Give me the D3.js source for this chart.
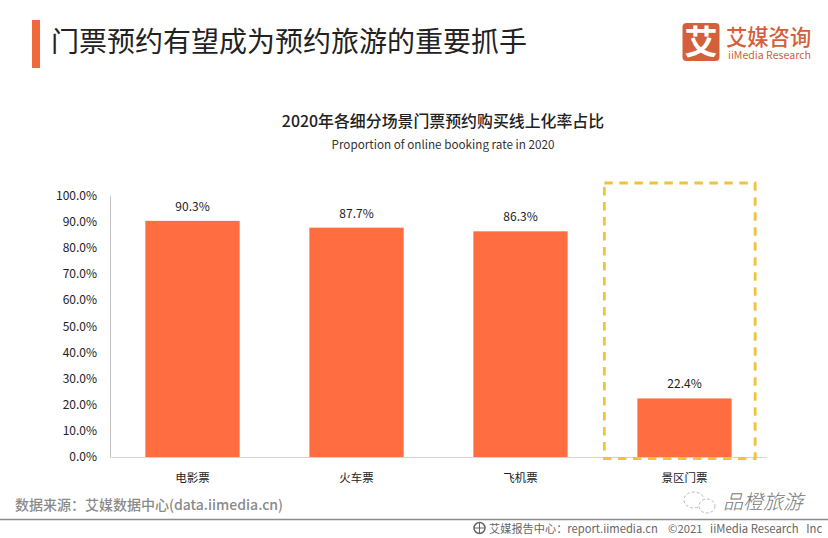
<!DOCTYPE html>
<html><head><meta charset="utf-8">
<script src="https://cdnjs.cloudflare.com/ajax/libs/d3/7.8.5/d3.min.js"></script>
<style>html,body{margin:0;padding:0;background:#fff}svg{display:block}
text{font-family:"Noto Sans CJK SC","Noto Sans",sans-serif;white-space:pre}</style></head>
<body><svg id="c" width="828" height="538"></svg>
<script>
const categories = ["电影票","火车票","飞机票","景区门票"];
const values = [90.3,87.7,86.3,22.4];
const valueLabels = ["90.3%","87.7%","86.3%","22.4%"];
const yTicks = [0,10,20,30,40,50,60,70,80,90,100];
const pageTitle = "门票预约有望成为预约旅游的重要抓手";
const chartTitle = "2020年各细分场景门票预约购买线上化率占比";
const chartSubtitle = "Proportion of online booking rate in 2020";
const sourceText = "数据来源：艾媒数据中心(data.iimedia.cn)";
const footerText = "艾媒报告中心：report.iimedia.cn";
const copyrightText = "©2021   iiMedia Research   Inc";
const highlighted = ["景区门票"];

const svg = d3.select("#c");
const x = d3.scaleBand().domain(categories).range([110.5,766.5]).paddingInner(0.425).paddingOuter(0.2125);
const y = d3.scaleLinear().domain([0,100]).range([457,195.5]);
const T = (s,px,py,size,fill,anchor="start",weight=400)=>svg.append("text").attr("x",px).attr("y",py)
  .attr("font-size",size).attr("fill",fill).attr("text-anchor",anchor).attr("font-weight",weight).text(s);

// header
svg.append("rect").attr("x",32).attr("y",20).attr("width",8).attr("height",48).attr("fill","#f0693a");
T(pageTitle,51,52,28,"#222");
svg.append("rect").attr("x",682.5).attr("y",23).attr("width",37).attr("height",38).attr("rx",4).attr("fill","#d4603b");
T("艾",701,54,33,"#fff","middle",700);
T("艾媒咨询",726,45,21.3,"#d4603b","start",500);
T("iiMedia Research",728,59,10.6,"#d4603b");

// chart titles
T(chartTitle,443,127,15.9,"#222","middle",500);
T(chartSubtitle,443,149,11.7,"#333","middle");

// axes
const gy = svg.append("g").attr("transform","translate(110,0)")
  .call(d3.axisLeft(y).tickValues(yTicks).tickFormat(d=>d.toFixed(1)+"%").tickSize(0).tickPadding(13));
gy.select(".domain").attr("stroke","#c4c4c4").attr("stroke-width",1);
gy.selectAll("text").attr("font-size",12).attr("fill","#222").attr("font-family","'Open Sans','Noto Sans',sans-serif");
const gx = svg.append("g").attr("transform","translate(0,457)")
  .call(d3.axisBottom(x).tickSize(0).tickPadding(17));
gx.select(".domain").attr("stroke","#d4d4d4").attr("stroke-width",1);
gx.selectAll("text").attr("font-size",11.5).attr("fill","#222");

// bars
svg.selectAll("rect.bar").data(values).join("rect").attr("class","bar")
  .attr("x",(d,i)=>x(categories[i])).attr("width",x.bandwidth())
  .attr("y",d=>y(d)).attr("height",d=>y(0)-y(d)).attr("fill","#ff6d41");
svg.selectAll("text.v").data(values).join("text").attr("class","v")
  .attr("x",(d,i)=>x(categories[i])+x.bandwidth()/2).attr("y",d=>y(d)-10)
  .attr("text-anchor","middle").attr("font-size",12).attr("fill","#222")
  .attr("font-family","'Open Sans','Noto Sans',sans-serif").text((d,i)=>valueLabels[i]);

// highlight box around the last category
highlighted.forEach(c=>{
  svg.append("rect").attr("x",x(c)-33).attr("y",183).attr("width",x.bandwidth()+56.5).attr("height",275.5)
    .attr("fill","none").attr("stroke","#f2c33a").attr("stroke-width",2.8).attr("stroke-dasharray","8.5 6.5");
});

// footer
T(sourceText,15,510,14,"#8a8a8a","start",500);
svg.append("line").attr("x1",0).attr("x2",828).attr("y1",519.5).attr("y2",519.5).attr("stroke","#8c8c8c").attr("stroke-width",1.5);
svg.append("circle").attr("cx",479.5).attr("cy",528).attr("r",5.5).attr("fill","none").attr("stroke","#666").attr("stroke-width",1.5);
svg.append("path").attr("d","M474 528H485M479.5 522.5V533.5").attr("stroke","#666").attr("stroke-width",1);
T(footerText,489,532.5,11.2,"#666");
T(copyrightText,668,532.5,11.3,"#666");
// watermark
svg.append("ellipse").attr("cx",694).attr("cy",500).attr("rx",10).attr("ry",8).attr("fill","#fff").attr("stroke","#bbb").attr("stroke-dasharray","3 2");
svg.append("ellipse").attr("cx",707).attr("cy",506).attr("rx",8).attr("ry",7).attr("fill","#fff").attr("stroke","#bbb").attr("stroke-dasharray","3 2");
T("品橙旅游",723,509,20,"#777","start",300).attr("font-style","italic");
</script></body></html>
